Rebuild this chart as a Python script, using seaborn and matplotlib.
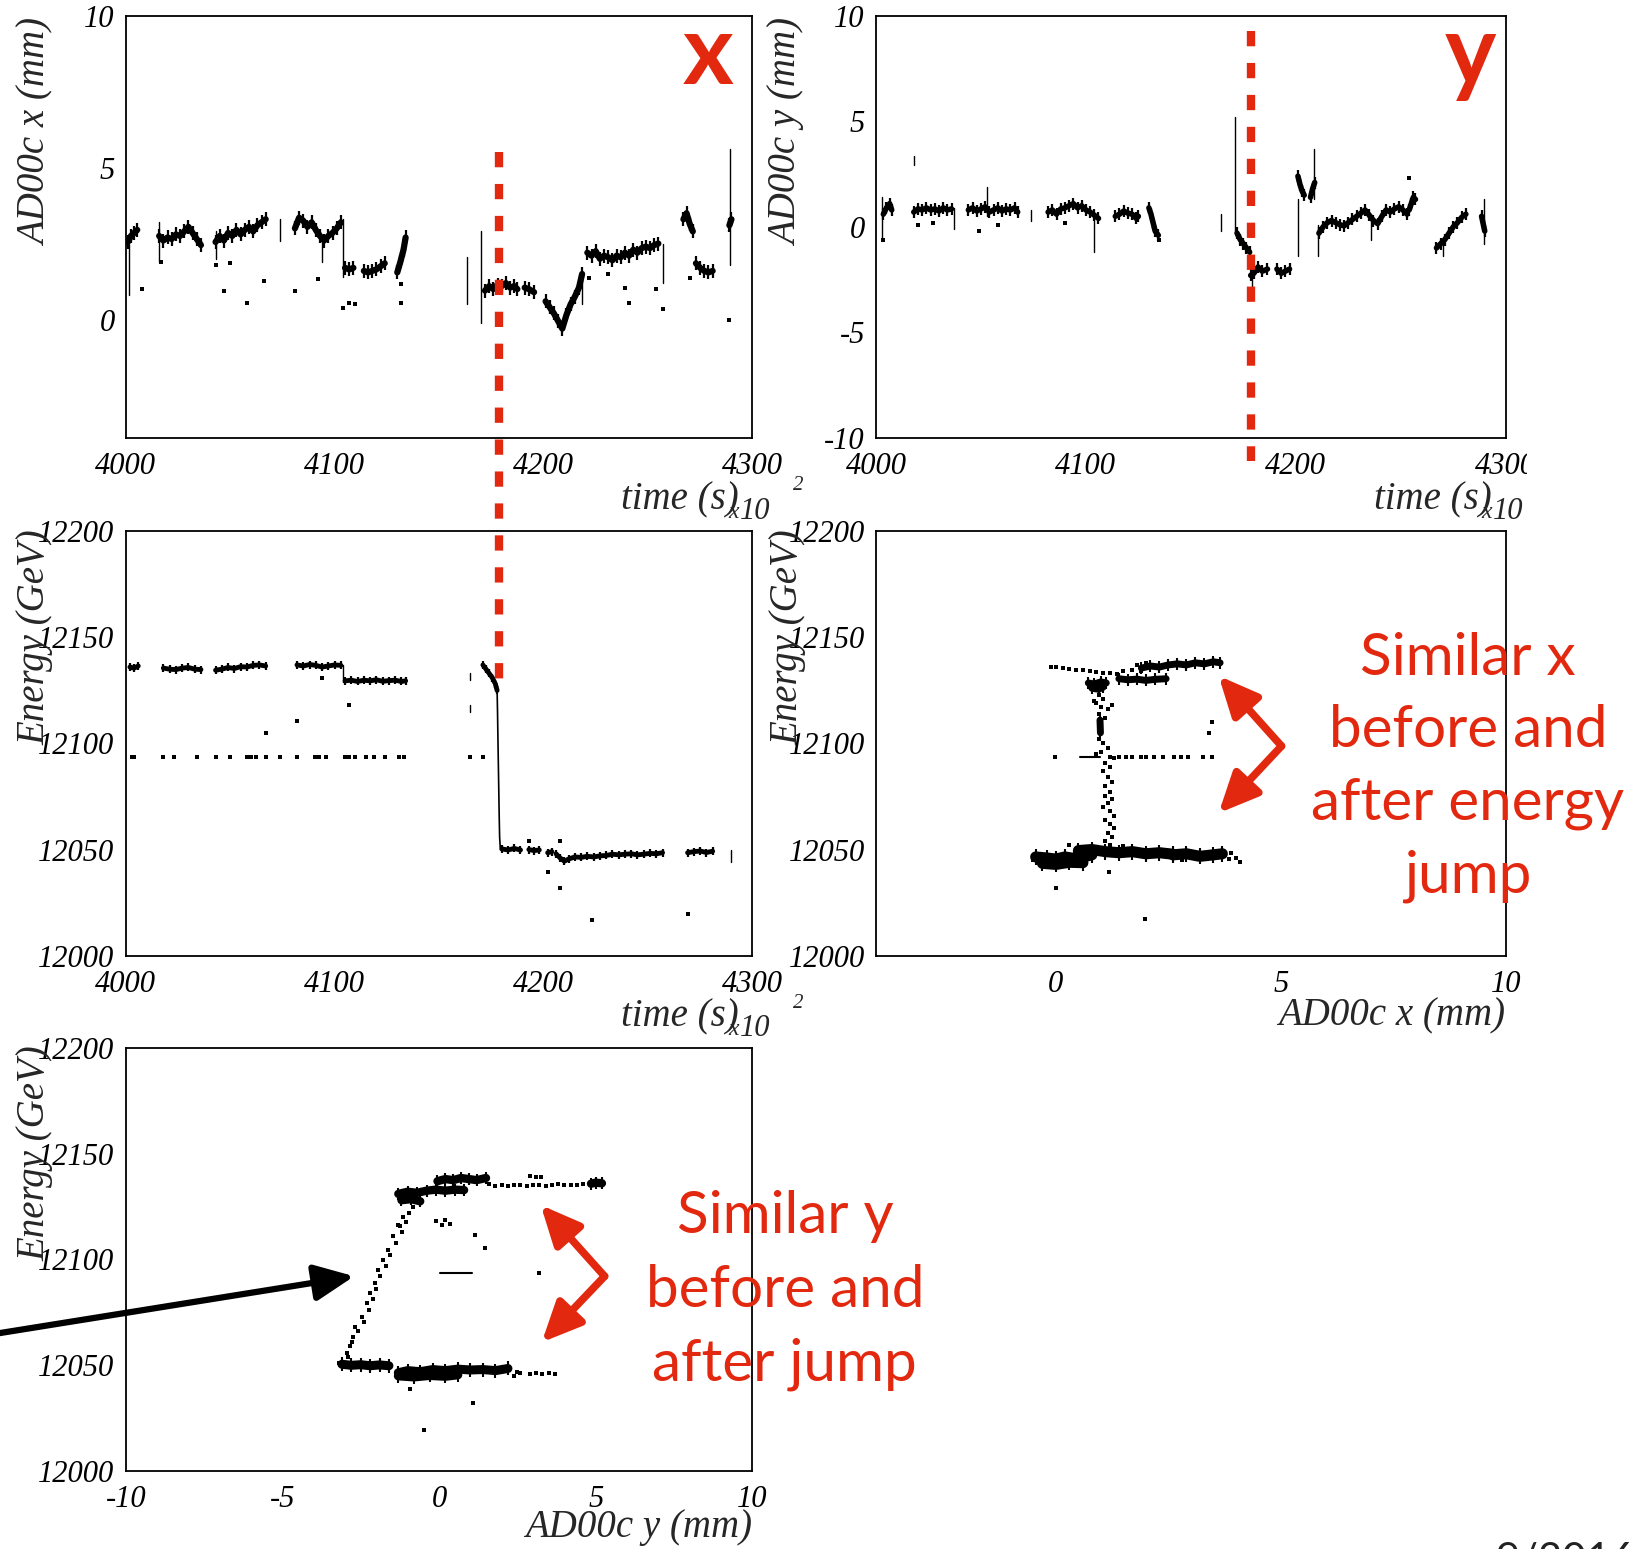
import numpy as np
import pandas as pd
import matplotlib
matplotlib.use('Agg')
import matplotlib.pyplot as plt
import seaborn as sns
from matplotlib.lines import Line2D
from matplotlib.patches import FancyArrowPatch, Rectangle
from matplotlib.ticker import MultipleLocator, ScalarFormatter

# ======================= DATA =======================
# --- top-left: AD00c x (mm) vs time ---
X_TIME = [4001, 4002.5, 4004, 4005.5, None,
          4016, 4018, 4020, 4022, 4024, 4026, 4028, 4030, 4032, 4034, 4036, None,
          4043, 4045, 4047, 4049, 4051, 4053, 4055, 4057, 4059, 4061, 4063, 4065, 4067, None,
          4081, 4083, 4085, 4087, 4089, 4091, 4093, 4095, 4097, 4099, 4101, 4103, None,
          4105, 4107, 4109, None,
          4114, 4116, 4118, 4120, 4122, 4124, None,
          4130, 4131.5, 4133, 4134, None,
          4172, 4174, 4176, 4178, 4180, 4182, 4184, 4186, 4187.5, None,
          4191, 4193, 4195.5, None,
          4201, 4203, 4205, 4207, 4209, 4211, 4213, 4215, 4217, 4218.5, None,
          4221, 4223, 4225, 4227, 4229, 4231, 4233, 4235, 4237, 4239, 4241, 4243, 4245, 4247,
          4249, 4251, 4253, 4255, None,
          4267, 4268.5, 4270, 4271.5, None,
          4273, 4275, 4277, 4279, 4281, None,
          4289, 4290]
X_POS = [2.55, 2.75, 2.85, 2.95, None,
         2.75, 2.6, 2.7, 2.65, 2.8, 2.75, 2.9, 3.05, 2.85, 2.65, 2.45, None,
         2.55, 2.75, 2.6, 2.85, 2.75, 2.95, 2.8, 2.95, 3.05, 2.9, 3.1, 3.2, 3.3, None,
         3.0, 3.35, 3.25, 3.05, 3.2, 2.95, 2.75, 2.6, 2.75, 2.85, 3.0, 3.2, None,
         1.7, 1.65, 1.7, None,
         1.6, 1.55, 1.6, 1.65, 1.75, 1.85, None,
         1.55, 1.9, 2.3, 2.7, None,
         0.95, 1.1, 1.0, 1.15, 1.1, 1.2, 1.05, 1.1, 1.0, None,
         1.05, 1.0, 0.9, None,
         0.6, 0.4, 0.2, -0.05, -0.3, 0.15, 0.5, 0.75, 1.05, 1.5, None,
         2.2, 2.1, 2.25, 2.0, 2.1, 2.05, 1.95, 2.1, 2.05, 2.2, 2.1, 2.3, 2.2, 2.35,
         2.4, 2.35, 2.45, 2.5, None,
         3.3, 3.5, 3.15, 2.9, None,
         1.85, 1.7, 1.6, 1.55, 1.6, None,
         3.1, 3.3]
X_STREAK_T = [4001.5, 4016, 4043, 4074, 4094, 4104, 4163.5, 4170, 4218.5, 4257, 4289.5]
X_STREAK_LO = [0.8, 1.9, 2.0, 2.6, 1.9, 1.4, 0.5, -0.1, 0.5, 1.2, 1.8]
X_STREAK_HI = [2.5, 3.2, 2.9, 3.3, 2.7, 3.3, 2.05, 2.9, 1.6, 2.5, 5.6]
X_DOT_T = [4008, 4017, 4043, 4047, 4050, 4058, 4066, 4081, 4092, 4104, 4107, 4110, 4132,
           4132, 4222, 4231, 4239, 4241, 4254, 4257, 4270, 4289]
X_DOT_V = [1.0, 1.9, 1.8, 0.94, 1.85, 0.55, 1.27, 0.94, 1.33, 0.39, 0.55, 0.5, 1.16,
           0.55, 1.38, 1.5, 1.05, 0.55, 1.0, 0.33, 1.38, 0.0]

# --- top-right: AD00c y (mm) vs time ---
Y_TIME = [4003.5, 4005, 4006.5, 4007.5, None,
          4018, 4020, 4022, 4024, 4026, 4028, 4030, 4032, 4034, 4036, None,
          4044, 4046, 4048, 4050, 4052, 4054, 4056, 4058, 4060, 4062, 4064, 4066, 4067.5, None,
          4082, 4084, 4086, 4088, 4090, 4092, 4094, 4096, 4098, 4100, 4102, 4104, 4106, None,
          4114, 4116, 4118, 4120, 4122, 4124, 4125, None,
          4130, 4131, 4132, 4133, 4134.5, None,
          4172, 4173.5, 4175, 4176.5, 4178, None,
          4178.5, 4180, 4182, 4184, 4186.5, None,
          4191, 4193, 4195, 4197, None,
          4201, 4202, 4203, 4204, None,
          4207, 4208, 4209, None,
          4211, 4213, 4215, 4217, 4219, 4221, 4223, 4225, 4227, 4229, 4231, 4233, 4235,
          4237, 4239, 4241, 4243, 4245, 4247, 4249, 4251, 4253, None,
          4254, 4255, 4256, 4257, None,
          4267, 4269, 4271, 4273, 4275, 4277, 4279, 4281, None,
          4288.5, 4290]
Y_POS = [0.6, 0.9, 1.1, 0.8, None,
         0.7, 0.85, 0.8, 0.9, 0.8, 0.85, 0.75, 0.9, 0.8, 0.85, None,
         0.8, 0.9, 0.75, 0.85, 0.95, 0.7, 0.8, 0.9, 0.75, 0.85, 0.8, 0.9, 0.7, None,
         0.7, 0.8, 0.6, 0.85, 0.9, 1.0, 1.1, 0.9, 1.0, 0.8, 0.7, 0.55, 0.4, None,
         0.5, 0.6, 0.75, 0.65, 0.6, 0.4, 0.5, None,
         0.9, 0.6, 0.2, -0.2, -0.4, None,
         -0.3, -0.6, -0.8, -1.0, -1.2, None,
         -2.3, -2.2, -1.9, -2.1, -2.0, None,
         -2.0, -2.2, -2.1, -2.0, None,
         2.4, 2.0, 1.7, 1.5, None,
         1.4, 1.8, 2.1, None,
         -0.3, 0.0, 0.2, 0.3, 0.2, 0.1, 0.05, 0.2, 0.35, 0.5, 0.65, 0.8, 0.55,
         0.3, 0.15, 0.5, 0.8, 0.7, 0.85, 0.95, 0.8, 0.6, None,
         0.8, 1.1, 1.4, 1.3, None,
         -1.0, -0.8, -0.6, -0.3, 0.0, 0.2, 0.45, 0.6, None,
         0.5, -0.2]
Y_STREAK_T = [4003, 4018, 4037, 4053, 4074, 4104, 4164.3, 4171, 4179, 4201, 4208.8, 4210.5,
              4236, 4270, 4289.5]
Y_STREAK_LO = [-0.6, 2.95, -0.1, 0.5, 0.3, -1.2, -0.2, -0.3, -2.9, -1.4, 1.3, -1.4, -0.6, -1.4, -0.8]
Y_STREAK_HI = [1.4, 3.35, 0.9, 1.9, 0.8, 0.7, 0.6, 5.2, -1.5, 1.3, 3.7, 0.1, 0.4, -0.6, 1.3]
Y_DOT_T = [4003.4, 4020, 4027, 4049, 4058, 4090, 4135, 4254]
Y_DOT_V = [-0.63, 0.1, 0.2, -0.2, 0.1, 0.2, -0.6, 2.3]

# --- middle-left: Energy (GeV) vs time ---
E_TIME = [4002, 4004, 4006, None,
          4018, 4021, 4024, 4027, 4030, 4033, 4036, None,
          4043, 4046, 4049, 4052, 4055, 4058, 4061, 4064, 4067, None,
          4082, 4085, 4088, 4091, 4094, 4097, 4100, 4103, None,
          4105, 4108, 4111, 4114, 4117, 4120, 4123, 4126, 4129, 4132, 4134, None,
          4171, 4172.5, 4174, 4175.5, 4177, 4177.8, None,
          4180, 4183, 4186, 4189, None,
          4193, 4195.5, 4198, None,
          4202, 4204, None,
          4206, 4208, 4210, 4212, 4215, 4218, 4221, 4224, 4227, 4230, 4233, 4236, 4239,
          4242, 4245, 4248, 4251, 4254, 4257, None,
          4269, 4272, 4275, 4278, 4281]
E_VAL = [12136, 12135.5, 12136.5, None,
         12135.5, 12135, 12134.8, 12135.5, 12135.8, 12135, 12134.8, None,
         12134.5, 12135, 12135.8, 12135.3, 12136.2, 12136, 12136.8, 12137, 12136.5, None,
         12137, 12136.5, 12137.2, 12136.8, 12136, 12136.5, 12137, 12136.8, None,
         12129.5, 12129.8, 12129.2, 12129.8, 12129.5, 12130, 12129.3, 12129.6, 12129.8, 12129.2, 12129.5, None,
         12137, 12135, 12133, 12131, 12128, 12125, None,
         12050.3, 12049.8, 12050.5, 12049.8, None,
         12050, 12049.5, 12049.8, None,
         12048.5, 12049, None,
         12048, 12046, 12044.5, 12045.5, 12046.5, 12046.3, 12046.8, 12046.5, 12047, 12047.2,
         12047.8, 12047.5, 12047.8, 12048, 12047.5, 12047.8, 12048.2, 12048, 12048.5, None,
         12048.5, 12049, 12049.3, 12048.6, 12049.2]
E_DROP_T = [4177.8, 4178.0, 4178.2, 4178.4, 4178.6, 4178.8, 4179.0, 4179.3]
E_DROP_V = [12125, 12115, 12102, 12090, 12078, 12066, 12056, 12051]
E_STREAK_T = [4002.5, 4104, 4165, 4165, 4290]
E_STREAK_LO = [12135, 12129, 12130, 12115, 12044]
E_STREAK_HI = [12137, 12137, 12133, 12118, 12050]
E_ROW_T = [4003, 4004, 4017.7, 4023, 4034, 4043, 4050, 4058, 4060, 4062.5, 4067, 4074, 4082,
           4090.6, 4092.7, 4095.8, 4105, 4107, 4110, 4115, 4118.8, 4124, 4131, 4133, 4165, 4171]
E_ROW_V = [12093.7, 12093.7, 12093.7, 12093.7, 12093.7, 12093.7, 12093.7, 12093.7, 12093.7,
           12093.7, 12093.7, 12093.7, 12093.7, 12093.7, 12093.7, 12093.7, 12093.7, 12093.7,
           12093.7, 12093.7, 12093.7, 12093.7, 12093.7, 12093.7, 12093.7, 12093.7]
E_DOT_T = [4082, 4094, 4107, 4067, 4193, 4208, 4202, 4208, 4223, 4269]
E_DOT_V = [12110.5, 12131, 12118, 12105, 12054, 12054, 12039.5, 12031.7, 12017, 12019.5]

# --- middle-right: Energy vs AD00c x ---
EX_TOP_X = [1.9, 2.1, 2.3, 2.5, 2.7, 2.9, 3.1, 3.3, 3.5, 3.65, None,
            1.4, 1.6, 1.8, 2.0, 2.2, 2.45, None,
            0.72, 0.85, 1.0, 1.12, None,
            0.8, 0.95, 1.05, None,
            0.98, 0.99]
EX_TOP_E = [12135.5, 12136.5, 12136, 12137, 12137.5, 12137, 12138, 12137.5, 12138.5, 12138, None,
            12130.5, 12130, 12130.3, 12129.7, 12130.2, 12130.5, None,
            12128.5, 12128, 12129, 12128.5, None,
            12126, 12125.5, 12126.5, None,
            12111, 12105]
EX_BOT_X = [-0.45, -0.2, 0.0, 0.2, 0.4, 0.6, 0.8, None,
            -0.3, 0.0, 0.3, 0.6, None,
            0.5, 0.8, 1.1, 1.4, 1.7, 2.0, 2.3, 2.6, None,
            2.6, 2.9, 3.2, 3.5, 3.7]
EX_BOT_E = [12046.5, 12046, 12045.5, 12046.5, 12045.8, 12046.5, 12047.5, None,
            12043.5, 12043, 12044, 12043.8, None,
            12049.5, 12050, 12049, 12048.5, 12049, 12048, 12048.5, 12047.8, None,
            12047.5, 12048, 12046.8, 12047.5, 12048]
EX_DOT_X = [-0.1, 0.0, 0.15, 0.3, 0.45, 0.6, 0.75, 0.9, 1.05, 1.2, 1.35, 1.5, 1.7, 1.9, 1.8, 2.0,
            0.95, 1.05, 0.9, 1.0, 1.15, 0.95, 1.1, 0.95, 1.05, 1.15, 1.0, 1.1, 1.2, 1.05, 1.15,
            1.25, 1.1, 1.2, 1.1, 1.25, 1.15, 1.05, 1.2, 1.3, 1.1, 1.2, 1.3, 1.15, 1.25, 1.1, 1.2,
            0.85, 1.25, 1.3, 0.9,
            -0.03, 1.2, 1.4, 1.55, 1.7, 1.9, 2.0, 2.17, 2.37, 2.63, 2.78, 2.93, 3.27, 3.46,
            4.0, 4.1, 3.9, -0.5, -0.45, 0.3, 1.5, 2.8, 0.1, 3.85,
            0.0, 1.19, 3.46, 3.4, 1.99]
EX_DOT_E = [12136.2, 12136, 12135.5, 12135.3, 12134.8, 12134.5, 12134, 12133.5, 12133.3, 12133,
            12132.5, 12134, 12134.5, 12134, 12137, 12138,
            12123, 12121, 12119, 12117, 12116, 12114, 12112, 12102, 12100, 12098, 12096,
            12091, 12089, 12087, 12084, 12082, 12080, 12077, 12075, 12074, 12072, 12070, 12068,
            12066, 12064, 12062, 12060, 12058, 12056, 12054, 12052,
            12120, 12118, 12093, 12095,
            12093.7, 12093.7, 12093.7, 12093.7, 12093.7, 12093.7, 12093.7, 12093.7, 12093.7,
            12093.7, 12093.7, 12093.7, 12093.7, 12093.7,
            12046, 12044, 12048.5, 12045, 12048, 12052, 12051.5, 12045, 12043, 12045.5,
            12031.7, 12039.3, 12110.2, 12105, 12017.3]
EX_ROW_X = [0.53, 0.98]
EX_ROW_E = [12093.7, 12093.7]

# --- bottom-left: Energy vs AD00c y ---
EY_TOP_Y = [-0.05, 0.2, 0.45, 0.7, 0.95, 1.2, 1.5, None,
            -1.3, -1.0, -0.7, -0.4, -0.1, 0.2, 0.5, 0.8, None,
            -1.2, -0.9, -0.6, None,
            4.85, 5.0, 5.2]
EY_TOP_E = [12137, 12138, 12137.5, 12138.5, 12138, 12137.5, 12138.5, None,
            12131, 12132, 12131.5, 12132.5, 12133, 12132.5, 12133, 12132.8, None,
            12128, 12128.5, 12127.5, None,
            12135.8, 12136.3, 12136]
EY_BOT_Y = [-3.1, -2.8, -2.5, -2.2, -1.9, -1.6, None,
            -1.3, -1.0, -0.6, -0.2, 0.2, 0.6, 1.0, 1.4, 1.8, 2.2, None,
            -1.3, -0.8, -0.3, 0.2, 0.6]
EY_BOT_E = [12050.5, 12050, 12050.3, 12049.8, 12050.2, 12049.8, None,
            12046.5, 12047.5, 12047, 12048, 12047.5, 12048.2, 12047.8, 12048, 12047.5, 12048.5, None,
            12045, 12044.5, 12045.2, 12044.8, 12045.5]
EY_DOT_Y = [1.6, 1.8, 2.0, 2.2, 2.4, 2.6, 2.8, 3.0, 3.2, 3.4, 3.6, 3.8, 4.0, 4.2, 4.4, 4.6,
            2.9, 3.1, 3.25,
            -0.82, -0.95, -1.14, -1.05, -1.24, -1.3, -1.18, -1.46, -1.38, -1.62, -1.55, -1.78,
            -1.7, -1.94, -1.88, -2.04, -2.0, -2.2, -2.12, -2.31, -2.25, -2.47, -2.4, -2.68,
            -2.6, -2.74, -2.84, -2.78, -2.9, -2.95,
            2.5, 2.9, 3.1, 3.3, 3.5, 3.7, 2.4, -3.2, 2.6,
            3.2, -0.1, 0.1, 0.35, 0.2, 1.16, 1.48, -0.93, 1.09, -0.47]
EY_DOT_E = [12135.5, 12134.8, 12135.2, 12134.5, 12135, 12135.3, 12134.6, 12135, 12135.4, 12134.8,
            12135.1, 12135.5, 12135, 12135.4, 12135.2, 12135.6,
            12139.5, 12139, 12138.8,
            12124.9, 12122, 12120.2, 12117.5, 12115.6, 12116.5, 12113, 12110.9, 12108, 12104.5,
            12102, 12099.8, 12097, 12095, 12092, 12088.8, 12086, 12084, 12081.5, 12079.3, 12076,
            12073, 12070.5, 12068.3, 12066, 12063.6, 12058.9, 12061, 12054.1, 12056,
            12047, 12046, 12046.5, 12046, 12046.2, 12045.8, 12045, 12051, 12046.4,
            12093.8, 12118, 12116.5, 12117, 12118.5, 12111.5, 12105.3, 12039, 12032, 12019.4]
EY_DASH_Y = [0.03, 1.05]
EY_DASH_E = [12093.8, 12093.8]

# ======================= STYLE / LAYOUT =======================
sns.set_theme(style='white')
plt.rcParams['font.family'] = ['Liberation Serif', 'DejaVu Serif']
plt.rcParams['font.style'] = 'italic'
plt.rcParams['axes.unicode_minus'] = False
plt.rcParams['lines.scale_dashes'] = False

W, H = 1643, 1549
S = W / 1568.0
RED = '#E2290F'
fig = plt.figure(figsize=(W / 100, H / 100), dpi=100)


def FX(d):
    return d * S / W


def FY(d):
    return 1 - d * S / H


def ax_at(x0, y0, x1, y1):
    return fig.add_axes([FX(x0), FY(y1), FX(x1) - FX(x0), FY(y0) - FY(y1)])


def seg_frame(xs, ys):
    rows, seg = [], 0
    for a, b in zip(xs, ys):
        if a is None:
            seg += 1
            continue
        rows.append((a, b, seg))
    return pd.DataFrame(rows, columns=['a', 'b', 'seg'])


def draw_band(ax, xs, ys, lw, ms, mew=1.6):
    df = seg_frame(xs, ys)
    sns.lineplot(data=df, x='a', y='b', units='seg', estimator=None, sort=False,
                 color='black', lw=lw, marker='|', markersize=ms, markeredgewidth=mew,
                 markeredgecolor='black', markerfacecolor='black',
                 ax=ax, legend=False)


def draw_streaks(ax, ts, lo, hi, lw=1.0):
    rows = []
    for i, (t, l, h) in enumerate(zip(ts, lo, hi)):
        rows += [(t, l, i), (t, h, i)]
    df = pd.DataFrame(rows, columns=['a', 'b', 'seg'])
    sns.lineplot(data=df, x='a', y='b', units='seg', estimator=None, sort=False,
                 color='black', lw=lw, ax=ax, legend=False)


def draw_dots(ax, xs, ys, s=8):
    sns.scatterplot(x=xs, y=ys, color='black', s=s, marker='s', linewidth=0, ax=ax)


def style_axes(ax, xlim, ylim, xmaj, xmin, ymaj, ymin):
    ax.set_xlim(*xlim)
    ax.set_ylim(*ylim)
    ax.xaxis.set_major_locator(MultipleLocator(xmaj))
    ax.xaxis.set_minor_locator(MultipleLocator(xmin))
    ax.yaxis.set_major_locator(MultipleLocator(ymaj))
    ax.yaxis.set_minor_locator(MultipleLocator(ymin))
    for axis in (ax.xaxis, ax.yaxis):
        axis.set_major_formatter(ScalarFormatter(useOffset=False))
    ax.tick_params(which='both', direction='in', top=False, right=False,
                   colors='black', width=1.3, labelsize=22, pad=8)
    ax.tick_params(axis='x', which='both', pad=10)
    ax.tick_params(which='major', length=15)
    ax.tick_params(which='minor', length=8)
    for sp in ax.spines.values():
        sp.set_visible(True)
        sp.set_color('black')
        sp.set_linewidth(1.3)
    ax.set_xlabel('')
    ax.set_ylabel('')
    ax.grid(False)
    ax.set_facecolor('white')


# ---------- panels ----------
ax_tl = ax_at(120, 15, 718, 418)
draw_streaks(ax_tl, X_STREAK_T, X_STREAK_LO, X_STREAK_HI)
draw_band(ax_tl, X_TIME, X_POS, lw=4.5, ms=10)
draw_dots(ax_tl, X_DOT_T, X_DOT_V)
style_axes(ax_tl, (4000, 4300), (-3.9, 10), 100, 20, 5, 1)

ax_tr = ax_at(836, 15, 1437, 418)
draw_streaks(ax_tr, Y_STREAK_T, Y_STREAK_LO, Y_STREAK_HI)
draw_band(ax_tr, Y_TIME, Y_POS, lw=4, ms=9)
draw_dots(ax_tr, Y_DOT_T, Y_DOT_V)
style_axes(ax_tr, (4000, 4300), (-10, 10), 100, 20, 5, 1)

ax_ml = ax_at(120, 507, 718, 912)
draw_streaks(ax_ml, E_STREAK_T, E_STREAK_LO, E_STREAK_HI)
sns.lineplot(x=E_DROP_T, y=E_DROP_V, color='black', lw=1.2, sort=False, estimator=None, ax=ax_ml)
draw_band(ax_ml, E_TIME, E_VAL, lw=3.5, ms=6)
draw_dots(ax_ml, E_ROW_T, E_ROW_V)
draw_dots(ax_ml, E_DOT_T, E_DOT_V)
style_axes(ax_ml, (4000, 4300), (12000, 12200), 100, 20, 50, 10)

ax_mr = ax_at(836, 507, 1437, 912)
draw_band(ax_mr, EX_TOP_X, EX_TOP_E, lw=5, ms=8, mew=1.5)
draw_band(ax_mr, EX_BOT_X, EX_BOT_E, lw=8, ms=12, mew=1.5)
sns.lineplot(x=EX_ROW_X, y=EX_ROW_E, color='black', lw=1.5, sort=False, estimator=None, ax=ax_mr)
draw_dots(ax_mr, EX_DOT_X, EX_DOT_E)
style_axes(ax_mr, (-4, 10), (12000, 12200), 5, 1, 50, 10)

ax_bl = ax_at(120, 1000, 718, 1404)
draw_band(ax_bl, EY_TOP_Y, EY_TOP_E, lw=6, ms=9, mew=1.5)
draw_band(ax_bl, EY_BOT_Y, EY_BOT_E, lw=6.5, ms=10, mew=1.5)
sns.lineplot(x=EY_DASH_Y, y=EY_DASH_E, color='black', lw=1.5, sort=False, estimator=None, ax=ax_bl)
draw_dots(ax_bl, EY_DOT_Y, EY_DOT_E)
style_axes(ax_bl, (-10, 10), (12000, 12200), 5, 1, 50, 10)

# ---------- axis titles (ROOT style) ----------
LAB = 28


def ylab(xd, yd, s):
    fig.text(FX(xd), FY(yd), s, rotation=90, ha='center', va='top', fontsize=LAB)


ylab(35, 18, 'AD00c x (mm)')
ylab(752, 18, 'AD00c y (mm)')
ylab(33, 505, 'Energy (GeV)')
ylab(752, 505, 'Energy (GeV)')
ylab(33, 998, 'Energy (GeV)')


def time_label(right, bottom):
    fig.text(FX(right - 13), FY(bottom + 68), 'time (s)', ha='right', va='baseline', fontsize=LAB)
    fig.text(FX(right - 18), FY(bottom + 76), 'x', ha='center', va='baseline', fontsize=17)
    fig.text(FX(right - 12), FY(bottom + 77), '10', ha='left', va='baseline', fontsize=22)
    fig.text(FX(right + 39), FY(bottom + 50), '2', ha='left', va='baseline', fontsize=15)


time_label(718, 418)
time_label(1437, 418)
time_label(718, 912)
fig.text(FX(1437), FY(979), 'AD00c x (mm)', ha='right', va='baseline', fontsize=LAB)
fig.text(FX(718), FY(1467), 'AD00c y (mm)', ha='right', va='baseline', fontsize=LAB)

# crop of the original canvas on the right of the top-right panel
fig.add_artist(Rectangle((FX(1457), FY(500)), 1 - FX(1457), 1 - FY(500),
                         transform=fig.transFigure, facecolor='white', edgecolor='none', zorder=5))

# ---------- red annotations ----------
def data_to_fig_x(ax, xv):
    px = ax.transData.transform((xv, 0))[0]
    return fig.transFigure.inverted().transform((px, 0))[0]


xd = data_to_fig_x(ax_tl, 4178.5)
fig.add_artist(Line2D([xd, xd], [FY(145), FY(652)], transform=fig.transFigure, color=RED,
                      lw=6, linestyle=(0, (11, 12)), solid_capstyle='butt', zorder=6))
xd = data_to_fig_x(ax_tr, 4178.5)
fig.add_artist(Line2D([xd, xd], [FY(30), FY(440)], transform=fig.transFigure, color=RED,
                      lw=6, linestyle=(0, (11, 12)), solid_capstyle='butt', zorder=6))

fig.text(FX(676), FY(80), 'x', color=RED, fontsize=70, fontweight='bold', family='Lato',
         style='normal', ha='center', va='baseline')
fig.text(FX(1403), FY(81), 'y', color=RED, fontsize=70, fontweight='bold', family='Lato',
         style='normal', ha='center', va='baseline')

for i, line in enumerate(['Similar x', 'before and', 'after energy', 'jump']):
    fig.text(FX(1401), FY(644 + 69.2 * i), line, color=RED, fontsize=42, family='Lato',
             style='normal', ha='center', va='baseline')
for i, line in enumerate(['Similar y', 'before and', 'after jump']):
    fig.text(FX(749), FY(1177 + 70.3 * i), line, color=RED, fontsize=42, family='Lato',
             style='normal', ha='center', va='baseline')


def arrow(p0, p1, color, lw):
    a = FancyArrowPatch((FX(p0[0]), FY(p0[1])), (FX(p1[0]), FY(p1[1])),
                        transform=fig.transFigure, arrowstyle='-|>,head_length=24,head_width=11',
                        mutation_scale=1, color=color, lw=lw, shrinkA=0, shrinkB=0, zorder=7)
    fig.add_artist(a)


arrow((1223, 712), (1163, 645), RED, 5.5)
arrow((1223, 712), (1163, 776), RED, 5.5)
arrow((577, 1218), (516, 1150), RED, 5.5)
arrow((577, 1218), (517, 1281), RED, 5.5)
arrow((-5, 1273), (338, 1218), 'black', 4.5)

fig.text(FX(1428), FY(1471), '9/2016', fontsize=30, family='Lato', style='normal',
         color='#222222', ha='left', va='top')

fig.savefig('out.png', dpi=100, facecolor='white')
